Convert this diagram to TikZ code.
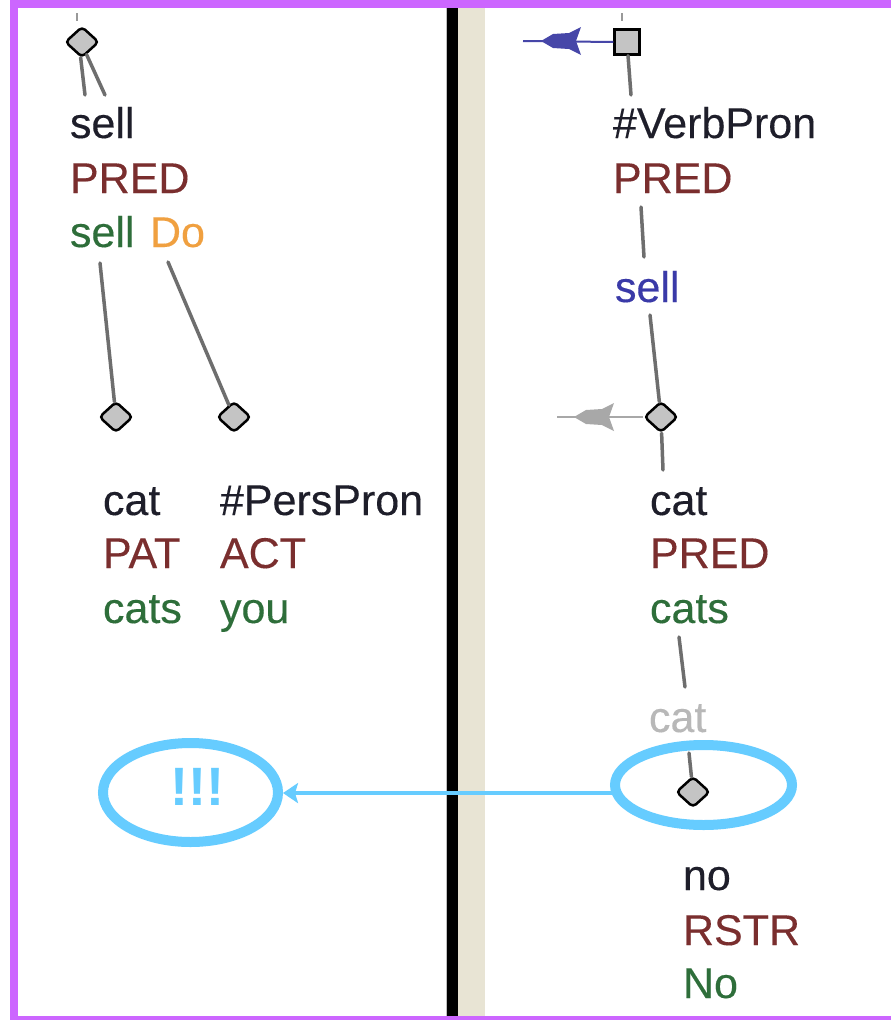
\documentclass[tikz,border=0pt]{standalone}
\usepackage{fontspec}
\setmainfont{Liberation Sans}
\newfontfamily\tfont{Liberation Sans}[FakeBold=0.3]
\usetikzlibrary{shapes.geometric,arrows.meta,calc}
\definecolor{frameP}{HTML}{CC66FF}
\definecolor{beigeC}{HTML}{E8E4D4}
\definecolor{txtK}{HTML}{1E1E2A}
\definecolor{txtR}{HTML}{7A2E2E}
\definecolor{txtG}{HTML}{2E6E3A}
\definecolor{txtO}{HTML}{F0A040}
\definecolor{txtB}{HTML}{3A3AA8}
\definecolor{txtL}{HTML}{B8B8B8}
\definecolor{edgeC}{HTML}{6E6E6E}
\definecolor{nodeF}{HTML}{C4C4C4}
\definecolor{hiB}{HTML}{66CCFF}
\definecolor{arrB}{HTML}{4646A8}
\definecolor{arrL}{HTML}{A8A8A8}
\tikzset{
  lbl/.style={anchor=base west, inner sep=0pt, outer sep=0pt, font=\tfont\fontsize{43}{48}\selectfont},
  dnode/.style={diamond, draw=black, fill=nodeF, line width=2.5pt, minimum width=34pt, minimum height=31pt, inner sep=0pt, rounded corners=4pt},
  snode/.style={rectangle, draw=black, fill=nodeF, line width=2.5pt, minimum size=25pt, inner sep=0pt},
  edgeline/.style={draw=edgeC, line width=3.5pt, line cap=round},
  tickline/.style={draw=edgeC!70, line width=1.5pt},
  hl/.style={ellipse, draw=hiB, line width=10pt, inner sep=0pt}
}
% fletched arrowhead pointing left, tip at #1
\newcommand\fletchhead[2]{%
  \fill[#2] (#1) -- ++(12,-7) -- ++(16,-1) -- ++(12,-6) -- ++(-5,14)
    -- ++(5,14) -- ++(-12,-6) -- ++(-16,-1) -- cycle;}
\begin{document}
\begin{tikzpicture}[x=1pt,y=-1pt]
\useasboundingbox (0,0) rectangle (891,1020);
\fill[white] (0,0) rectangle (891,1020);
% frame
\fill[frameP] (10,0) rectangle (891,8);
\fill[frameP] (10,0) rectangle (18,1020);
\fill[frameP] (10,1016) rectangle (891,1020);
% divider
\fill[black!25] (445.5,8) rectangle (447,1016);
\fill[black] (447,8) rectangle (458,1016);
\fill[beigeC] (458,8) rectangle (485,1016);

% ---------- left tree ----------
\coordinate (lt1) at (77,13);
\coordinate (lt2) at (77,21);
\draw[tickline] (lt1) -- (lt2);
\node[dnode] (d1) at (82,42) {};
\coordinate (e1a) at (85,95);
\coordinate (e1b) at (105,95);
\draw[edgeline] (d1.-95) -- (e1a);
\draw[edgeline] (d1.-70) -- (e1b);

\node[lbl, text=txtK] (t1) at (70,138) {sell};
\node[lbl, text=txtR] (t2) at (70,193) {PRED};
\node[lbl, text=txtG] (t3) at (70,247) {sell};
\node[lbl, text=txtO] (t4) at (150,247) {Do};

\coordinate (c1) at (100,263);
\coordinate (c2) at (168,262);
\node[dnode] (d2) at (116,417) {};
\node[dnode] (d3) at (234,417) {};
\draw[edgeline] (c1) -- (d2);
\draw[edgeline] (c2) -- (d3);

\node[lbl, text=txtK] (t5) at (103,515) {cat};
\node[lbl, text=txtR] (t6) at (103,568) {PAT};
\node[lbl, text=txtG] (t7) at (103,623) {cats};
\node[lbl, text=txtK] (t8) at (220,515) {\#PersPron};
\node[lbl, text=txtR] (t9) at (220,568) {ACT};
\node[lbl, text=txtG] (t10) at (220,623) {you};

% ---------- right tree ----------
\coordinate (rt1) at (622,13);
\coordinate (rt2) at (622,21);
\draw[tickline] (rt1) -- (rt2);
\node[snode] (s1) at (627,42) {};
\coordinate (bt) at (541,41);
\coordinate (be) at (523,41);
\draw[draw=arrB, line width=2pt] (s1.west) -- (be);
\fletchhead{bt}{arrB}
\coordinate (c3) at (631,95);
\draw[edgeline] (s1) -- (c3);

\node[lbl, text=txtK] (r1) at (613,138) {\#VerbPron};
\node[lbl, text=txtR] (r2) at (613,193) {PRED};
\coordinate (c4a) at (641,207);
\coordinate (c4b) at (644,257);
\draw[edgeline] (c4a) -- (c4b);
\node[lbl, text=txtB] (r3) at (615,302) {sell};
\coordinate (c5) at (650,315);
\node[dnode] (d4) at (661,417) {};
\draw[edgeline] (c5) -- (d4);
\coordinate (gt) at (574,417);
\coordinate (ge) at (557,417);
\draw[draw=arrL, line width=2pt] (d4.west) -- (ge);
\fletchhead{gt}{arrL}
\coordinate (c6) at (663,470);
\draw[edgeline] (d4) -- (c6);

\node[lbl, text=txtK] (r4) at (650,515) {cat};
\node[lbl, text=txtR] (r5) at (650,568) {PRED};
\node[lbl, text=txtG] (r6) at (650,623) {cats};
\coordinate (c7a) at (679,637);
\coordinate (c7b) at (685,687);
\draw[edgeline] (c7a) -- (c7b);
\node[lbl, text=txtL] (r7) at (649,732) {cat};
\coordinate (c8) at (689,753);
\node[dnode] (d5) at (693,792) {};
\draw[edgeline] (c8) -- (d5);

\node[lbl, text=txtK] (r8) at (683,890) {no};
\node[lbl, text=txtR] (r9) at (683,945) {RSTR};
\node[lbl, text=txtG] (r10) at (683,998) {No};

% ---------- highlight ----------
\node[hl, minimum width=177pt, minimum height=80pt] (eR) at (703.5,785) {};
\node[hl, minimum width=175pt, minimum height=99pt] (eL) at (190.5,792.5) {};
\node[text=hiB, inner sep=0pt, font=\fontsize{54}{60}\selectfont\bfseries] (ex) at (197.5,787) {!!!};
\draw[draw=hiB, line width=4.5pt, -{Stealth[length=15pt,width=20pt,inset=3pt]}] (eR.185) -- (eR.185 -| eL.east);
\end{tikzpicture}
\end{document}
